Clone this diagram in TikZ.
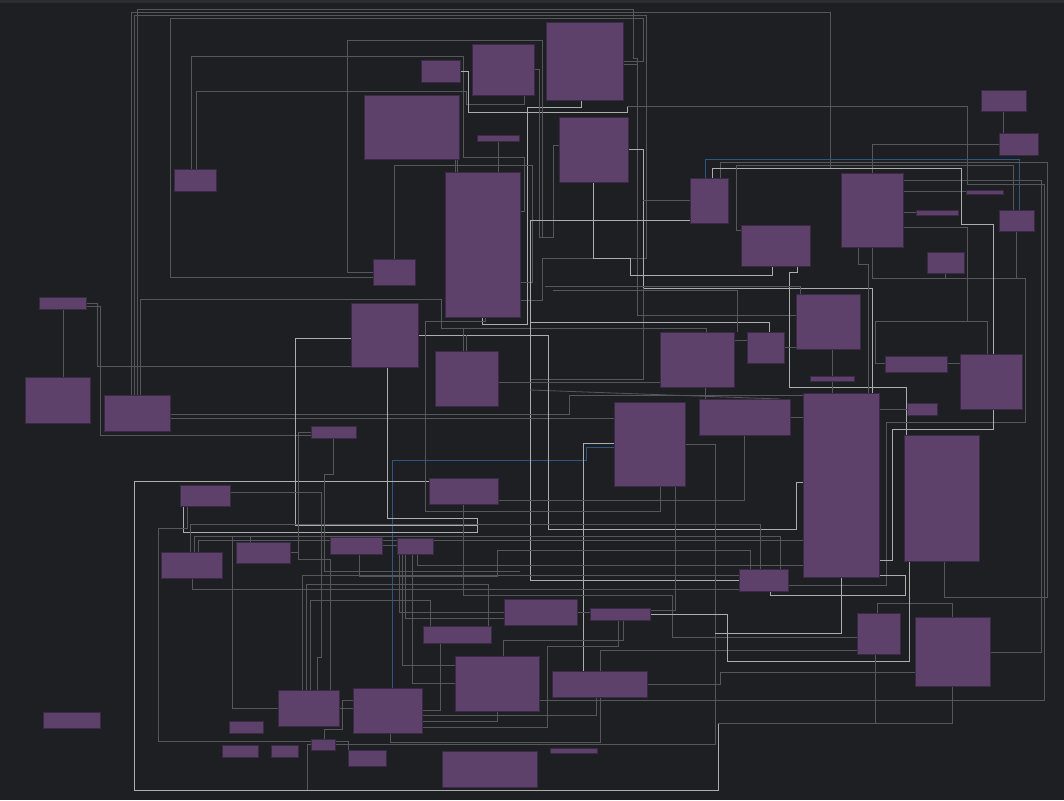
\documentclass[tikz,border=0pt]{standalone}
\usetikzlibrary{calc}
\definecolor{bgc}{HTML}{1E1F22}
\definecolor{stripc}{HTML}{2B2D30}
\definecolor{boxc}{HTML}{5D416A}
\definecolor{edgec}{HTML}{3B2A46}
\definecolor{medc}{HTML}{55575B}
\definecolor{brc}{HTML}{ADADAD}
\definecolor{bluc}{HTML}{2D5682}
\pgfdeclarelayer{back}
\pgfdeclarelayer{lines}
\pgfsetlayers{back,lines,main}
\tikzset{
 box/.style={draw=edgec, fill=boxc, line width=0.8pt, inner sep=0pt, outer sep=0pt},
 ml/.style={draw=medc, line width=0.8pt, line join=miter},
 bl/.style={draw=brc, line width=0.8pt, line join=miter},
 ul/.style={draw=bluc, line width=0.8pt, line join=miter},
}
\newcommand\bx[5]{\node[box,minimum width={#4pt-#2pt},minimum height={#5pt-#3pt}] (#1) at ({(#2+#4)/2},{(#3+#5)/2}) {};}
\begin{document}
\begin{tikzpicture}[x=1pt,y=-1pt]
\begin{pgfonlayer}{back}
\fill[bgc] (0,0) rectangle (1064,800);
\fill[stripc] (0,0) rectangle (1064,3);
\useasboundingbox (0,0) rectangle (1064,800);
\end{pgfonlayer}
% boxes
\bx{A}{421}{60}{460}{82}
\bx{B}{472}{44}{534}{95}
\bx{C}{546}{22}{623}{100}
\bx{D}{364}{95}{459}{159}
\bx{E}{477}{135}{519}{141}
\bx{F}{559}{117}{628}{182}
\bx{G}{174}{169}{216}{191}
\bx{H}{445}{172}{520}{317}
\bx{I}{373}{259}{415}{285}
\bx{J}{39}{297}{86}{309}
\bx{K}{25}{377}{90}{423}
\bx{L}{104}{395}{170}{431}
\bx{M}{351}{303}{418}{367}
\bx{N}{435}{351}{498}{406}
\bx{O}{690}{178}{728}{223}
\bx{P}{741}{225}{810}{266}
\bx{Q}{841}{173}{903}{247}
\bx{R}{981}{90}{1026}{111}
\bx{S}{999}{133}{1038}{155}
\bx{T}{966}{190}{1003}{194}
\bx{U}{916}{210}{958}{215}
\bx{V}{999}{210}{1034}{231}
\bx{W}{927}{252}{964}{273}
\bx{X}{796}{294}{860}{349}
\bx{Y}{747}{332}{784}{363}
\bx{Z}{660}{332}{734}{387}
\bx{AA}{885}{356}{947}{372}
\bx{AB}{960}{354}{1022}{409}
\bx{AC}{810}{376}{854}{381}
\bx{AD}{907}{403}{937}{415}
\bx{AE}{803}{393}{879}{577}
\bx{AF}{904}{435}{979}{561}
\bx{AG}{699}{399}{790}{435}
\bx{AH}{614}{402}{685}{486}
\bx{AI}{311}{426}{356}{438}
\bx{AJ}{429}{478}{498}{504}
\bx{AK}{180}{485}{230}{506}
\bx{AL}{161}{552}{222}{578}
\bx{AM}{236}{542}{290}{563}
\bx{AN}{330}{537}{382}{554}
\bx{AO}{397}{538}{433}{554}
\bx{AP}{739}{569}{788}{591}
\bx{AQ}{504}{599}{577}{625}
\bx{AR}{590}{608}{650}{620}
\bx{AS}{423}{626}{491}{643}
\bx{AT}{857}{613}{900}{654}
\bx{AU}{915}{617}{990}{686}
\bx{AV}{455}{656}{539}{711}
\bx{AW}{552}{671}{647}{697}
\bx{AX}{278}{690}{339}{726}
\bx{AY}{353}{688}{422}{733}
\bx{AZ}{43}{712}{100}{728}
\bx{BA}{229}{721}{263}{733}
\bx{BB}{222}{745}{258}{757}
\bx{BC}{271}{745}{298}{757}
\bx{BD}{311}{739}{335}{750}
\bx{BE}{348}{750}{386}{766}
\bx{BF}{442}{751}{537}{787}
\bx{BG}{550}{748}{597}{753}
% connectors
\begin{pgfonlayer}{lines}
\draw[ml] (131,0|-L.north) -- (131,12) -- (830,12) -- (830,168);
\draw[ml] (134,0|-L.north) -- (134,15) -- (646,15) -- (646,258) -- (542,258) -- (542,300) -- (H.east|-0,300);
\draw[ml] (137,0|-L.north) -- (137,9) -- (633,9) -- (633,58) -- (637,58) -- (637,315) -- (X.west|-0,315);
\draw[ml] (140,0|-L.north) -- (140,299) -- (441,299) -- (441,328) -- (706,328) -- (706,0|-Z.north);
\draw[ml] (191,0|-G.north) -- (191,56) -- (463,56) -- (463,157) -- (524,157) -- (524,211) -- (H.east|-0,211);
\draw[ml] (196,0|-G.north) -- (196,91) -- (466,91) -- (466,104) -- (524,104) -- (524,0|-B.south);
\draw[bl] (A.east|-0,71) -- (468,71) -- (468,112) -- (627,112) -- (627,106);
\draw[ml] (627,106) -- (967,106) -- (967,184) -- (1044,184) -- (1044,700) -- (AV.east|-0,700);
\draw[bl] (581,0|-C.south) -- (581,107) -- (527,107) -- (527,324) -- (482,324) -- (482,0|-H.south);
\draw[ml] (394,0|-I.north) -- (394,165) -- (532,165) -- (532,282) -- (H.east|-0,282);
\draw[ml] (I.west|-0,272) -- (347,272) -- (347,40) -- (542,40) -- (542,237) -- (553,237) -- (553,145) -- (F.west|-0,145);
\draw[ml] (I.west|-0,277) -- (170,277) -- (170,18) -- (643,18) -- (643,61) -- (C.east|-0,61);
\draw[ml] (C.east|-0,64) -- (637,64);
\draw[ml] (B.east|-0,69) -- (539,69) -- (539,237) -- (542,237);
\draw[bl] (F.east|-0,149) -- (643,149) -- (643,288) -- (872,288) -- (872,0|-AE.north);
\draw[ml] (643,288) -- (643,379) -- (530,379);
\draw[bl] (593,0|-F.south) -- (593,258) -- (630,258) -- (630,275) -- (772,275) -- (772,0|-P.south);
\draw[bl] (797,0|-P.south) -- (797,272) -- (789,272) -- (789,387) -- (906,387) -- (906,0|-AF.north);
\draw[ul] (705,0|-O.north) -- (705,159) -- (1019,159) -- (1019,0|-V.north);
\draw[ul] (392,0|-AY.north) -- (392,460) -- (586,460) -- (586,447) -- (AH.west|-0,447);
\draw[bl] (AH.west|-0,443) -- (583,443) -- (583,0|-AW.north);
\draw[ml] (O.west|-0,200) -- (643,200);
\draw[bl] (O.west|-0,220) -- (530,220) -- (530,580) -- (AP.west|-0,580);
\draw[bl] (769,0|-Y.north) -- (769,322) -- (530,322);
\draw[ml] (545,286) -- (800,286) -- (800,0|-X.north);
\draw[ml] (553,290) -- (737,290) -- (737,0|-Y.north);
\draw[ml] (530,390) -- (AG.north-|780,0);
\draw[ml] (Q.east|-0,191) -- (T.west|-0,191);
\draw[ml] (Q.east|-0,212) -- (U.west|-0,212);
\draw[ml] (Q.east|-0,227) -- (967,227) -- (967,321) -- (875,321) -- (875,363) -- (AA.west|-0,363);
\draw[ml] (987,0|-AB.north) -- (987,321) -- (967,321);
\draw[ml] (872,0|-Q.north) -- (872,144) -- (S.west|-0,144);
\draw[ml] (1003,0|-R.south) -- (1003,0|-S.north);
\draw[ml] (858,0|-Q.south) -- (858,264) -- (868,264) -- (868,0|-AE.north);
\draw[ml] (872,0|-Q.south) -- (872,278) -- (1025,278) -- (1025,422) -- (886,422) -- (886,585) -- (AP.east|-0,585);
\draw[ml] (1016,0|-V.south) -- (1016,278);
\draw[ml] (945,0|-W.south) -- (945,278);
\draw[ml] (J.east|-0,303) -- (97,303) -- (97,366) -- (M.west|-0,366);
\draw[ml] (J.east|-0,306) -- (100,306) -- (100,435) -- (AI.west|-0,435);
\draw[ml] (63,0|-J.south) -- (63,0|-K.north);
\draw[ml] (L.east|-0,414) -- (569,414) -- (569,395) -- (AE.west|-0,395);
\draw[ml] (L.east|-0,418) -- (AH.west|-0,418);
\draw[bl] (M.east|-0,335) -- (548,335) -- (548,529) -- (796,529) -- (796,482) -- (AE.west|-0,482);
\draw[bl] (M.west|-0,338) -- (295,338) -- (295,525) -- (477,525) -- (477,532);
\draw[bl] (387,0|-M.south) -- (387,518) -- (477,518) -- (477,532) -- (183,532) -- (183,0|-AK.south);
\draw[ml] (463,0|-N.north) -- (463,328);
\draw[ml] (466,0|-N.north) -- (466,335);
\draw[ml] (N.east|-0,382) -- (Z.west|-0,382);
\draw[bl] (AJ.west|-0,481) -- (134,481) -- (134,790) -- (718,790) -- (718,723);
\draw[ml] (718,723) -- (952,723) -- (952,603) -- (877,603) -- (877,0|-AT.north);
\draw[ml] (AK.east|-0,492) -- (321,492) -- (321,657) -- (317,657) -- (317,0|-AX.north);
\draw[ml] (AI.west|-0,432) -- (298,432) -- (298,559) -- (330,559) -- (330,0|-AX.north);
\draw[ml] (333,0|-AI.south) -- (333,474) -- (324,474) -- (324,571) -- (520,571);
\draw[ml] (187,0|-AK.south) -- (187,528) -- (158,528) -- (158,741) -- (348,741) -- (348,0|-BE.north);
\draw[ml] (190,0|-AL.north) -- (190,524) -- (760,524) -- (760,0|-AP.north);
\draw[ml] (194,0|-AL.north) -- (194,536) -- (780,536) -- (780,0|-AP.north);
\draw[ml] (198,0|-AL.north) -- (198,540) -- (AE.west|-0,540);
\draw[ml] (192,0|-AL.south) -- (192,589) -- (AP.west|-0,589);
\draw[ml] (359,0|-AN.south) -- (359,576) -- (497,576) -- (497,550) -- (750,550) -- (750,0|-AP.north);
\draw[ml] (AN.east|-0,545) -- (AO.west|-0,545);
\draw[ml] (AM.east|-0,552) -- (298,552);
\draw[ml] (399,0|-AO.south) -- (399,612) -- (AQ.west|-0,612);
\draw[ml] (402,0|-AO.south) -- (402,665) -- (AV.west|-0,665);
\draw[ml] (405,0|-AO.south) -- (405,618) -- (AQ.west|-0,618);
\draw[ml] (412,0|-AO.south) -- (412,683) -- (AV.west|-0,683);
\draw[ml] (417,0|-AO.south) -- (417,565) -- (AE.west|-0,565);
\draw[ml] (463,0|-AJ.south) -- (463,595) -- (672,595) -- (672,637) -- (AT.west|-0,637);
\draw[ml] (618,0|-AR.south) -- (618,646) -- (547,646) -- (547,727) -- (AY.east|-0,727);
\draw[ml] (623,0|-AR.south) -- (623,640) -- (503,640) -- (503,0|-AV.north);
\draw[ml] (AQ.east|-0,612) -- (AR.west|-0,612);
\draw[ml] (AY.east|-0,710) -- (440,710) -- (440,0|-AS.south);
\draw[ml] (AY.east|-0,715) -- (596,715) -- (596,0|-AW.south);
\draw[ml] (AY.east|-0,721) -- (497,721) -- (497,0|-AV.south);
\draw[ml] (390,0|-AY.south) -- (390,742) -- (600,742) -- (600,650) -- (AT.west|-0,650);
\draw[ml] (AH.east|-0,444) -- (715,444) -- (715,744) -- (307,744) -- (307,790);
\draw[ml] (744,0|-AG.south) -- (744,500) -- (AJ.east|-0,500);
\draw[ml] (AG.east|-0,417) -- (AE.west|-0,417);
\draw[bl] (841,0|-AE.south) -- (841,633) -- (715,633);
\draw[bl] (AE.east|-0,575) -- (905,575) -- (905,595) -- (770,595) -- (770,0|-AP.south);
\draw[bl] (909,0|-AF.south) -- (909,661) -- (727,661) -- (727,614) -- (AR.east|-0,614);
\draw[ml] (944,0|-AF.south) -- (944,597) -- (1047,597) -- (1047,162) -- (720,162) -- (720,0|-O.north);
\draw[ml] (AU.east|-0,652) -- (1041,652) -- (1041,180) -- (Q.east|-0,180);
\draw[ml] (AU.west|-0,672) -- (720,672) -- (720,684) -- (AW.east|-0,684);
\draw[ml] (875,0|-AT.south) -- (875,723);
\draw[bl] (712,0|-O.north) -- (712,168) -- (961,168) -- (961,224) -- (993,224) -- (993,429) -- (892,429) -- (892,560) -- (AE.east|-0,560);
\draw[ml] (1013,0|-V.north) -- (1013,165) -- (736,165) -- (736,230) -- (P.west|-0,230);
\draw[ml] (AA.east|-0,363) -- (AB.west|-0,363);
\draw[ml] (AD.west|-0,409) -- (AE.east|-0,409);
\draw[ml] (832,0|-X.south) -- (832,0|-AC.north);
\draw[ml] (832,0|-AC.south) -- (832,0|-AE.north);
\draw[ml] (Y.east|-0,347) -- (X.west|-0,347);
\draw[ml] (Z.east|-0,340) -- (Y.west|-0,340);
\draw[ml] (705,0|-Z.south) -- (705,0|-AG.north);
\draw[ml] (485,0|-H.south) -- (485,321) -- (425,321) -- (425,511) -- (660,511) -- (660,0|-AH.south);
\draw[ml] (675,0|-AH.south) -- (675,610) -- (AR.east|-0,610);
\draw[ml] (302,0|-AX.north) -- (302,575) -- (AP.west|-0,575);
\draw[ml] (306,0|-AX.north) -- (306,584) -- (488,584) -- (488,0|-AS.north);
\draw[ml] (310,0|-AX.north) -- (310,600) -- (430,600) -- (430,0|-AS.north);
\draw[ml] (AX.west|-0,708) -- (232,708) -- (232,536) -- (250,536) -- (250,0|-AM.north);
\draw[ml] (AX.east|-0,708) -- (AY.west|-0,708);
\draw[ml] (324,0|-BD.north) -- (324,729) -- (342,729) -- (342,700) -- (AY.west|-0,700);
\draw[ml] (455,0|-D.south) -- (455,0|-H.north);
\draw[ml] (457,0|-D.south) -- (457,0|-H.north);
\draw[ml] (498,0|-E.south) -- (498,0|-H.north);
\end{pgfonlayer}
\end{tikzpicture}
\end{document}
